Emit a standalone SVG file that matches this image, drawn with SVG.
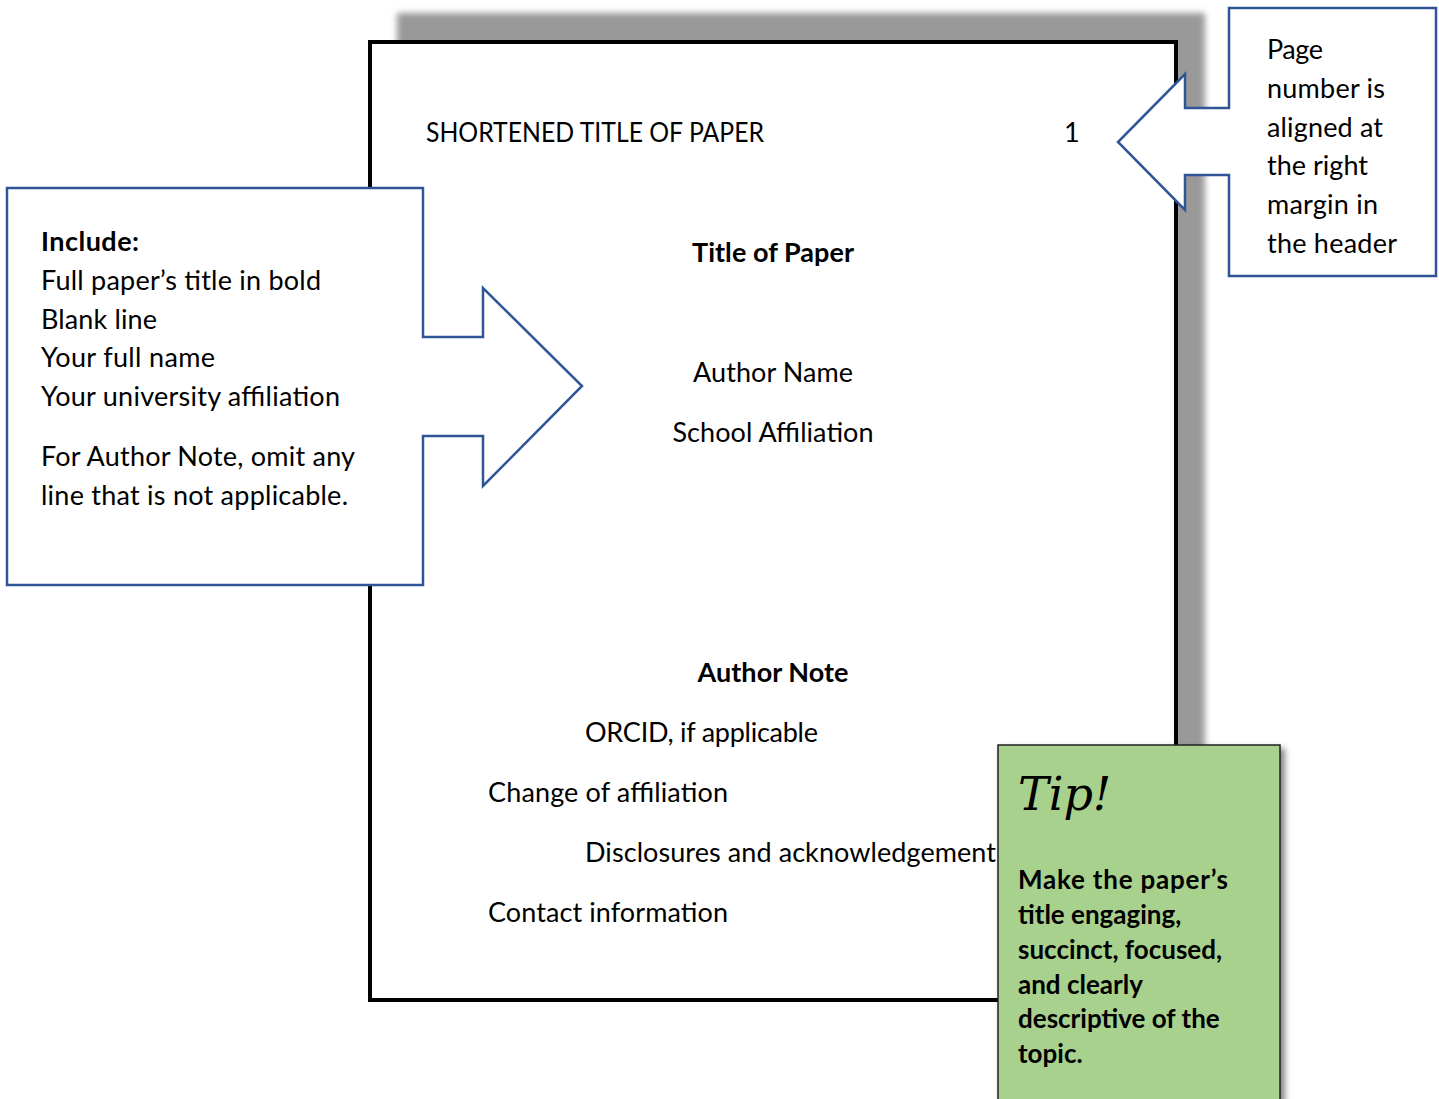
<svg xmlns="http://www.w3.org/2000/svg" width="1439" height="1099" viewBox="0 0 1439 1099">
<style>
.t{font-family:Lato,"Open Sans","Liberation Sans",sans-serif;font-size:27px;fill:#000}
.b{font-weight:bold}
.c{text-anchor:middle}
.call{fill:#fff;stroke:#2F5597;stroke-width:2.5}
.tip{font-family:Lato,"Liberation Sans",sans-serif;font-size:26px;font-weight:bold;fill:#000}
</style>
<defs>
<filter id="blur" x="-5%" y="-5%" width="110%" height="110%"><feGaussianBlur stdDeviation="3"/></filter>
<filter id="sh" x="-10%" y="-10%" width="130%" height="130%"><feDropShadow dx="4" dy="4" stdDeviation="3" flood-color="#000" flood-opacity="0.5"/></filter>
</defs>
<rect width="1439" height="1099" fill="#fff"/>
<g id="page">
<rect x="397" y="13" width="808" height="957" fill="#999" filter="url(#blur)"/>
<rect x="370" y="42" width="806" height="958" fill="#fff" stroke="#000" stroke-width="4"/>
<text class="t" x="426" y="142" textLength="338" lengthAdjust="spacingAndGlyphs">SHORTENED TITLE OF PAPER</text>
<text class="t" x="1064" y="142">1</text>
<text class="t b c" x="773" y="262" textLength="162">Title of Paper</text>
<text class="t c" x="773" y="382" textLength="160">Author Name</text>
<text class="t c" x="773" y="442" textLength="201">School Affiliation</text>
<text class="t b c" x="773" y="682" textLength="151">Author Note</text>
<text class="t" x="585" y="742" textLength="233">ORCID, if applicable</text>
<text class="t" x="488" y="802" textLength="240">Change of affiliation</text>
<text class="t" x="585" y="862" textLength="411">Disclosures and acknowledgement</text>
<text class="t" x="488" y="922" textLength="240">Contact information</text>
</g>
<g id="connectors"></g>
<g id="left-callout">
<path class="call" d="M7,188 H423 V337 H483 V288 L582,386 L483,486 V436 H423 V585 H7 Z"/>
<text class="t b" x="41" y="251" textLength="98">Include:</text>
<text class="t" x="41" y="290" textLength="280">Full paper’s title in bold</text>
<text class="t" x="41" y="329" textLength="116">Blank line</text>
<text class="t" x="41" y="367" textLength="174">Your full name</text>
<text class="t" x="41" y="406" textLength="299">Your university affiliation</text>
<text class="t" x="41" y="466" textLength="314">For Author Note, omit any</text>
<text class="t" x="41" y="505" textLength="307">line that is not applicable.</text>
</g>
<g id="right-callout">
<path class="call" d="M1229,8 H1436 V276 H1229 V175 H1185 V210 L1118,142 L1185,74 V108 H1229 Z"/>
<text class="t" x="1267" y="59" textLength="56">Page</text>
<text class="t" x="1267" y="98" textLength="118">number is</text>
<text class="t" x="1267" y="137" textLength="116">aligned at</text>
<text class="t" x="1267" y="175" textLength="101">the right</text>
<text class="t" x="1267" y="214" textLength="111">margin in</text>
<text class="t" x="1267" y="253" textLength="130">the header</text>
</g>
<g id="tip-box">
<rect x="998" y="745" width="282" height="370" fill="#A9D18E" stroke="#222" stroke-width="1.5" filter="url(#sh)"/>
<text x="1018" y="810" font-family="'DejaVu Serif',serif" font-style="italic" font-size="46" fill="#000">Tip!</text>
<text class="tip" x="1018" y="889" textLength="210">Make the paper’s</text>
<text class="tip" x="1018" y="924">title engaging,</text>
<text class="tip" x="1018" y="959">succinct, focused,</text>
<text class="tip" x="1018" y="994">and clearly</text>
<text class="tip" x="1018" y="1028">descriptive of the</text>
<text class="tip" x="1018" y="1063">topic.</text>
</g>
</svg>
